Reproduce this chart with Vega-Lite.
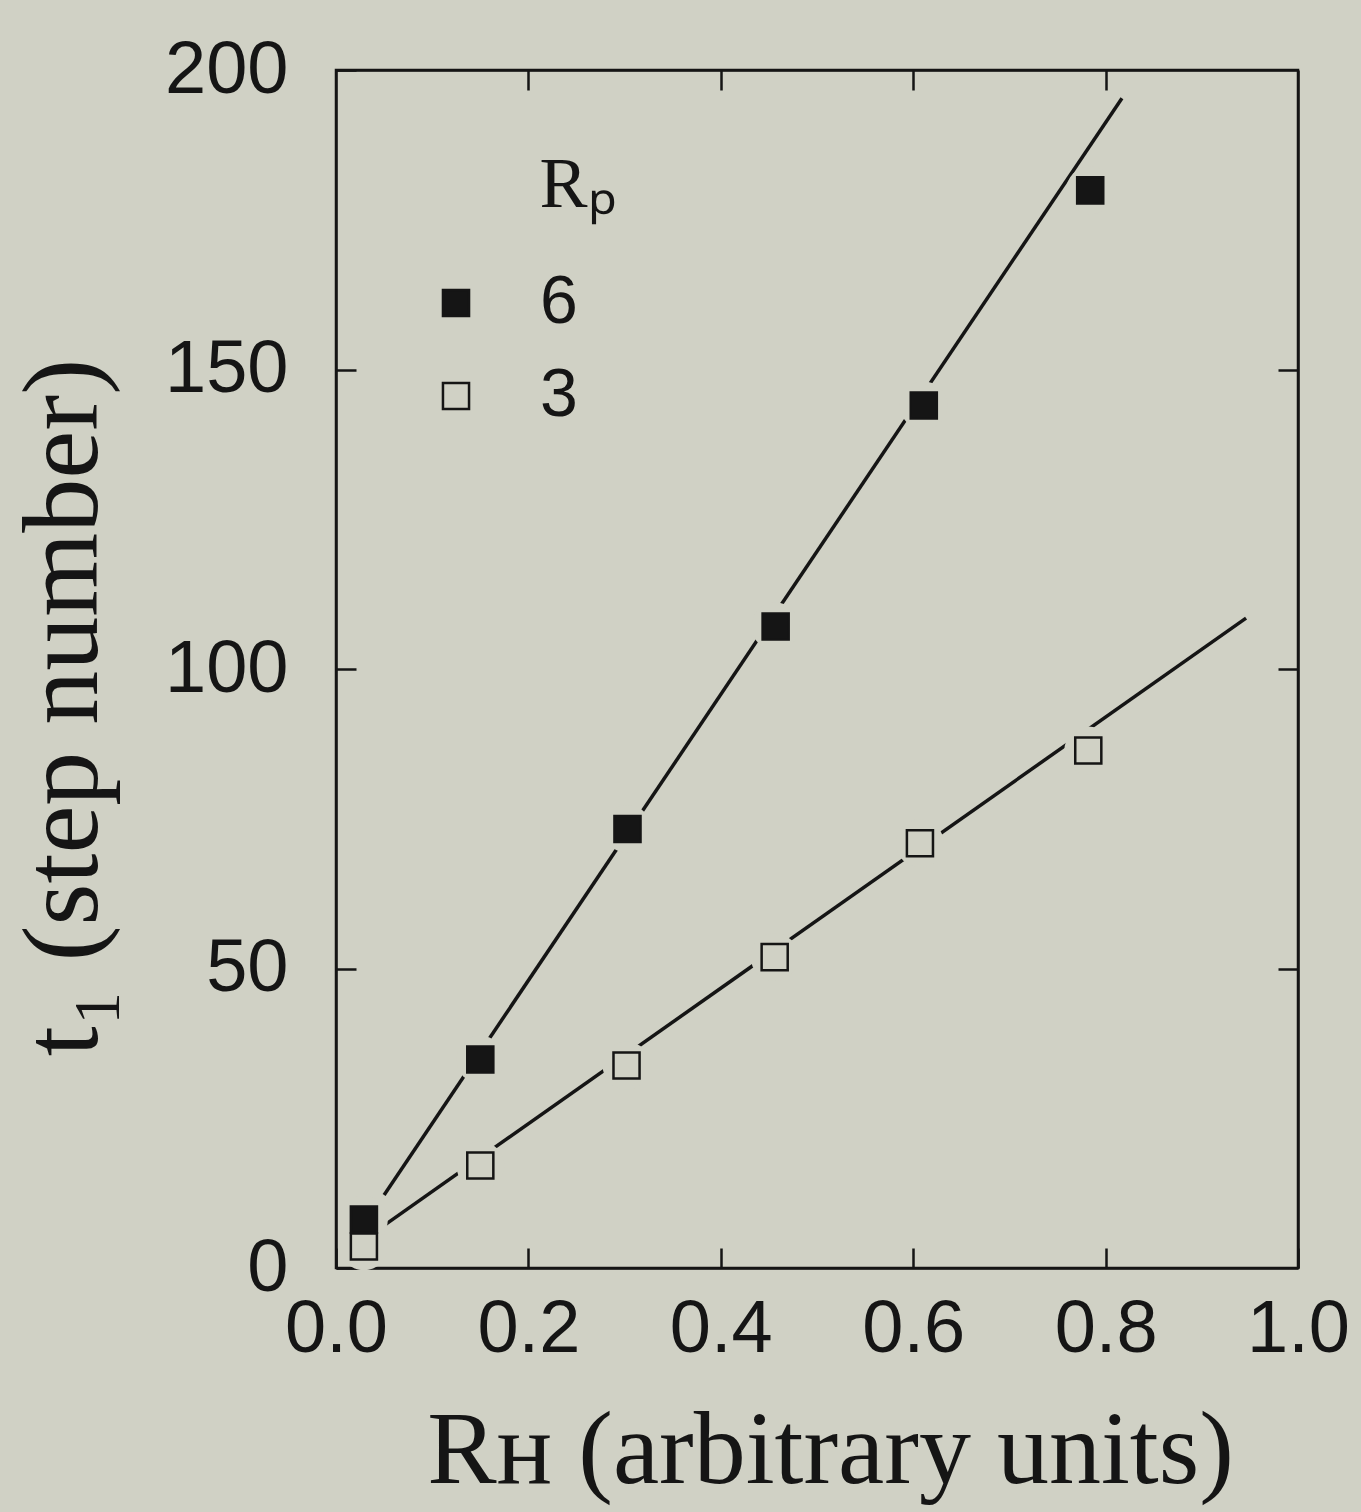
{
  "$schema": "https://vega.github.io/schema/vega-lite/v6.json",
  "width": 962,
  "height": 1198,
  "autosize": "none",
  "padding": {"left": 336, "top": 70, "right": 63, "bottom": 244},
  "background": "#d0d1c5",
  "config": {
    "view": {"stroke": "#151515", "strokeWidth": 2.5},
    "axis": {
      "domain": true,
      "domainColor": "#151515",
      "domainWidth": 2.5,
      "zindex": 1,
      "grid": false,
      "tickColor": "#151515",
      "tickWidth": 2.5,
      "tickSize": -20,
      "labelFont": "Liberation Sans",
      "labelFontSize": 74,
      "labelColor": "#151515",
      "titleFont": "Liberation Serif",
      "titleFontWeight": "normal",
      "titleColor": "#151515"
    }
  },
  "datasets": {
    "points": [
      {"rh": 0.029, "t1": 3.6, "rp": "3"},
      {"rh": 0.150, "t1": 17.1, "rp": "3"},
      {"rh": 0.302, "t1": 33.8, "rp": "3"},
      {"rh": 0.456, "t1": 51.9, "rp": "3"},
      {"rh": 0.607, "t1": 70.9, "rp": "3"},
      {"rh": 0.782, "t1": 86.4, "rp": "3"},
      {"rh": 0.029, "t1": 8.1, "rp": "6"},
      {"rh": 0.150, "t1": 34.8, "rp": "6"},
      {"rh": 0.303, "t1": 73.3, "rp": "6"},
      {"rh": 0.457, "t1": 107.1, "rp": "6"},
      {"rh": 0.611, "t1": 144.0, "rp": "6"},
      {"rh": 0.784, "t1": 179.9, "rp": "6"}
    ],
    "lines": [
      {"rh": 0.050, "t1": 12.2, "rp": "6"},
      {"rh": 0.817, "t1": 195.3, "rp": "6"},
      {"rh": 0.042, "t1": 6.2, "rp": "3"},
      {"rh": 0.946, "t1": 108.5, "rp": "3"}
    ]
  },
  "layer": [
    {
      "data": {"name": "lines"},
      "mark": {"type": "line", "stroke": "#151515", "strokeWidth": 3.5},
      "encoding": {
        "x": {
          "field": "rh", "type": "quantitative",
          "scale": {"domain": [0, 1], "nice": false, "zero": false},
          "axis": {
            "orient": "bottom",
            "values": [0, 0.2, 0.4, 0.6, 0.8, 1.0],
            "format": ".1f",
            "labelPadding": 45,
            "labelFlush": false,
            "title": "Rʜ (arbitrary units)",
            "titleFontSize": 104,
            "titleX": 494,
            "titleY": 214,
            "titleBaseline": "alphabetic"
          }
        },
        "y": {
          "field": "t1", "type": "quantitative",
          "scale": {"domain": [0, 200], "nice": false, "zero": false},
          "axis": {
            "orient": "left",
            "values": [0, 50, 100, 150, 200],
            "labelPadding": 68,
            "labelFlush": false,
            "title": "t₁ (step number)",
            "titleFontSize": 108,
            "titleX": -240,
            "titleY": 637,
            "titleBaseline": "alphabetic"
          }
        },
        "detail": {"field": "rp", "type": "nominal"}
      }
    },
    {
      "data": {"name": "points"},
      "mark": {"type": "point", "shape": "circle", "size": 2300, "filled": true, "fill": "#d0d1c5", "opacity": 1, "strokeWidth": 0},
      "encoding": {
        "x": {
          "field": "rh", "type": "quantitative",
          "axis": {"orient": "top", "values": [0.2, 0.4, 0.6, 0.8], "labels": false, "title": null}
        },
        "y": {
          "field": "t1", "type": "quantitative",
          "axis": {"orient": "right", "values": [50, 100, 150], "labels": false, "title": null}
        }
      }
    },
    {
      "data": {"name": "points"},
      "mark": {"type": "point", "shape": "square", "size": 680, "filled": true, "stroke": "#151515", "strokeWidth": 2.5, "opacity": 1},
      "encoding": {
        "x": {"field": "rh", "type": "quantitative", "axis": null},
        "y": {"field": "t1", "type": "quantitative", "axis": null},
        "fill": {
          "field": "rp", "type": "nominal",
          "scale": {"domain": ["6", "3"], "range": ["#151515", "#d0d1c5"]},
          "legend": {
            "title": "Rₚ",
            "orient": "none",
            "legendX": 86,
            "legendY": 80,
            "padding": 0,
            "symbolType": "square",
            "symbolSize": 680,
            "symbolStrokeColor": "#151515",
            "symbolStrokeWidth": 2.5,
            "labelFont": "Liberation Sans",
            "labelFontSize": 68,
            "labelColor": "#151515",
            "labelOffset": 50,
            "titleFont": "Liberation Serif",
            "titleFontSize": 72,
            "titleFontWeight": "normal",
            "titleColor": "#151515",
            "titleAnchor": "end",
            "titleAlign": "center",
            "titlePadding": 47,
            "rowPadding": 25
          }
        }
      }
    }
  ],
  "resolve": {"axis": {"x": "independent", "y": "independent"}}
}
